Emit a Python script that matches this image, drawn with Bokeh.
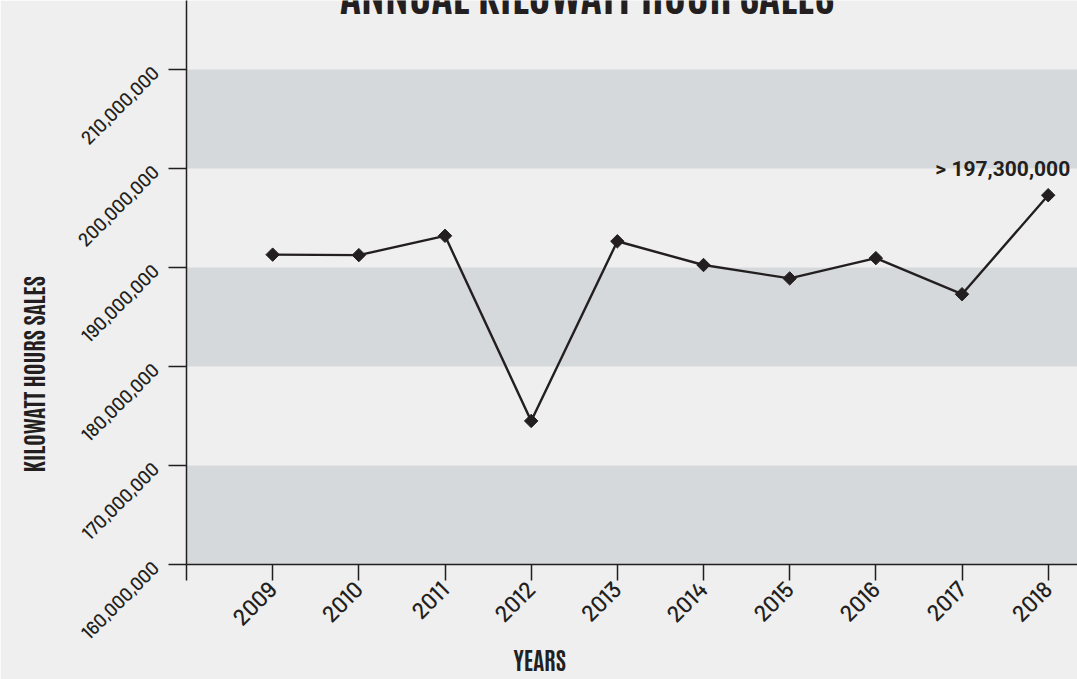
import math
from bokeh.plotting import figure
from bokeh.models import (ColumnDataSource, FixedTicker, Range1d, Title,
                          NumeralTickFormatter)
from bokeh.core.properties import value
from bokeh.embed import file_html
from bokeh.resources import INLINE

# ---- data ----
years = [2009, 2010, 2011, 2012, 2013, 2014, 2015, 2016, 2017, 2018]
sales = [191300000, 191250000, 193200000, 174500000, 192650000,
         190250000, 188900000, 190950000, 187300000, 197300000]
band_bottoms = [160000000, 180000000, 200000000]
band_tops = [170000000, 190000000, 210000000]
y_ticks = [160000000, 170000000, 180000000, 190000000, 200000000, 210000000]
x_ticks = [2008, 2009, 2010, 2011, 2012, 2013, 2014, 2015, 2016, 2017, 2018]
title_text = "ANNUAL KILOWATT HOUR SALES"
x_title = "YEARS"
y_title = "KILOWATT HOURS SALES"
callout = "> 197,300,000"

HEAD = "Antonio"
INK = "#231f20"
BG = "#efefef"
BAND = "#d5d9dc"

W, H = 1077, 679
X0, X1 = 2008, 2018.34
Y0, Y1 = 160000000, 216970000
p = figure(width=W, height=H, output_backend="svg", toolbar_location=None,
           x_range=Range1d(X0, X1), y_range=Range1d(Y0, Y1),
           min_border_left=186, min_border_right=0, min_border_top=0,
           min_border_bottom=115)
p.background_fill_color = BG
p.border_fill_color = BG
p.outline_line_color = None
p.grid.visible = False

src_b = ColumnDataSource(dict(bottom=band_bottoms, top=band_tops))
p.quad(left=X0, right=X1, bottom="bottom", top="top", source=src_b,
       fill_color=BAND, line_color=None)

src = ColumnDataSource(dict(x=years, y=sales))
p.line("x", "y", source=src, line_color=INK, line_width=2.4)
p.scatter("x", "y", source=src, marker="square", angle=math.pi / 4, size=9.5,
          fill_color=INK, line_color=INK)

src_c = ColumnDataSource(dict(x=[years[-1]], y=[sales[-1]], t=[callout]))
p.text("x", "y", text="t", source=src_c, x_offset=22, y_offset=-26,
       text_align="right", text_baseline="alphabetic",
       text_font=value("Roboto"), text_font_style="bold",
       text_font_size="21px", text_color=INK)

# chart title: sits at the very top of the plot area, cut by the page edge
src_t = ColumnDataSource(dict(x=[2012.65], y=[Y1 - 1520000], t=[title_text]))
p.text("x", "y", text="t", source=src_t, text_align="center", y_offset=-25,
       text_baseline="alphabetic", text_font=value(HEAD), text_font_style="bold",
       text_font_size="46px", text_color=INK)

# axes
xa = p.xaxis[0]
xa.ticker = FixedTicker(ticks=x_ticks)
xa.major_label_overrides = {2008: ""}
xa.major_label_orientation = math.pi / 4
xa.major_tick_out = 16
xa.major_tick_in = 0
xa.minor_tick_out = 0
xa.minor_tick_in = 0
xa.axis_line_color = INK
xa.axis_line_width = 1.5
xa.major_tick_line_color = INK
xa.major_tick_line_width = 1.5
xa.major_label_text_font = "Barlow Medium"
xa.major_label_text_font_size = "23px"
xa.major_label_text_color = INK
xa.major_label_standoff = 5

ya = p.yaxis[0]
ya.ticker = FixedTicker(ticks=y_ticks)
ya.formatter = NumeralTickFormatter(format="0,0")
ya.major_label_orientation = math.pi / 4
ya.major_tick_out = 18
ya.major_tick_in = 0
ya.minor_tick_out = 0
ya.minor_tick_in = 0
ya.axis_line_color = INK
ya.axis_line_width = 1.5
ya.major_tick_line_color = INK
ya.major_tick_line_width = 1.5
ya.major_label_text_font = "Barlow Medium"
ya.major_label_text_font_size = "19px"
ya.major_label_text_color = INK
ya.major_label_standoff = 13
ya.axis_label = " "
ya.axis_label_text_font_size = "1px"
ya.axis_label_standoff = 12

# axis titles
tx = Title(text=x_title, align="left", offset=327, text_font=HEAD,
           text_font_style="bold", text_font_size="24px", text_color=INK)
p.add_layout(tx, "below")
ty = Title(text=y_title, align="left", offset=92, text_font=HEAD,
           text_font_style="bold", text_font_size="24px", text_color=INK)
p.add_layout(ty, "left")

open("out.html", "w").write(file_html(p, INLINE))
